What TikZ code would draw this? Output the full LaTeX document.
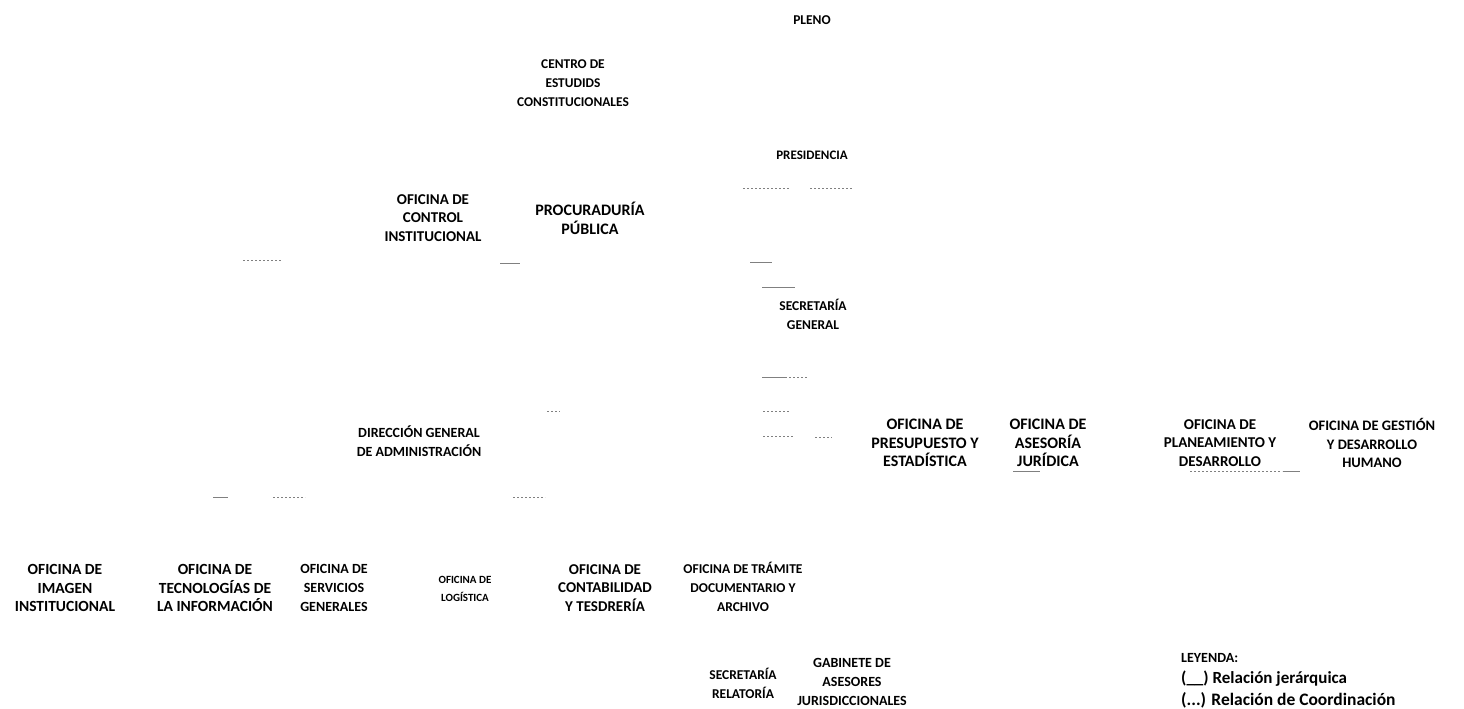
\documentclass[tikz,border=0pt]{standalone}
\usepackage{fontspec}
\setmainfont{Carlito}
\usetikzlibrary{calc}
\tikzset{unit/.style={align=center, inner sep=0pt,
           font=\bfseries\fontsize{#1}{18.8}\selectfont},
     unit/.default=13,
     legend text/.style={anchor=west, inner sep=0pt,
           font=\bfseries\fontsize{#1}{15}\selectfont},
     frag/.style={draw=black!50, line width=0.7pt},
     frag dots/.style={frag, dash pattern=on 2pt off 2pt}
     }
\newcommand\Unit[4][13]{%
 \node[unit=#1] (#2) at (#3) {#4};
}

\begin{document}
\begin{tikzpicture}[x=1pt, y=-1pt]
\useasboundingbox (0,0) rectangle (1464,709);
\Unit[13.5]{Pleno}{812,20}{PLENO}
\Unit[13.4]{Centro}{573,83}{CENTRO DE\\ESTUDIDS\\CONSTITUCIONALES}
\Unit{Presidencia}{812,155}{PRESIDENCIA}
\Unit[15]{Control}{433,218}{OFICINA DE\\CONTROL\\INSTITUCIONAL}
\Unit[16]{Procuraduria}{590,218}{PROCURADURÍA\\PÚBLICA}
\Unit[13.5]{SecGeneral}{813,314}{SECRETARÍA\\GENERAL}
\Unit[14]{DirAdmin}{419,441}{DIRECCIÓN GENERAL\\DE ADMINISTRACIÓN}
\Unit[16]{Presupuesto}{925,443}{OFICINA DE\\PRESUPUESTO Y\\ESTADÍSTICA}
\Unit[16]{Asesoria}{1048,443}{OFICINA DE\\ASESORÍA\\JURÍDICA}
\Unit[15]{Planeamiento}{1220,443}{OFICINA DE\\PLANEAMIENTO Y\\DESARROLLO}
\Unit[14.5]{Gestion}{1372,443}{OFICINA DE GESTIÓN\\Y DESARROLLO\\HUMANO}
\Unit[15.5]{Imagen}{65,588}{OFICINA DE\\IMAGEN\\INSTITUCIONAL}
\Unit[15.5]{Tecnologias}{215,588}{OFICINA DE\\TECNOLOGÍAS DE\\LA INFORMACIÓN}
\Unit[14]{Servicios}{334,588}{OFICINA DE\\SERVICIOS\\GENERALES}
\Unit[11]{Logistica}{465,589}{OFICINA DE\\LOGÍSTICA}
\Unit[15]{Contabilidad}{605,588}{OFICINA DE\\CONTABILIDAD\\Y TESDRERÍA}
\Unit[13.5]{Tramite}{743,587}{OFICINA DE TRÁMITE\\DOCUMENTARIO Y\\ARCHIVO}
\Unit[13.5]{Relatoria}{743,683}{SECRETARÍA\\RELATORÍA}
\Unit[14]{Gabinete}{852,682}{GABINETE DE\\ASESORES\\JURISDICCIONALES}
% leyenda
\node[legend text=14] (Leyenda) at (1181,658) {LEYENDA:};
\node[legend text=17] (Jerarquica) at (1181,679) {(\_\_) Relación jerárquica};
\node[legend text=17.5] (Coordinacion) at (1181,700) {(...) Relación de Coordinación};
% restos de conectores
\draw[frag dots] (743,188) -- (790,188);
\draw[frag dots] (810,188) -- (852,188);
\draw[frag dots] (243,260) -- (282,260);
\draw[frag] (500,263) -- (520,263);
\draw[frag] (750,262) -- (772,262);
\draw[frag] (762,287) -- (795,287);
\draw[frag] (762,377) -- (785,377);
\draw[frag dots] (785,377) -- (808,377);
\draw[frag dots] (547,411) -- (560,411);
\draw[frag dots] (763,411) -- (790,411);
\draw[frag dots] (763,436) -- (793,436);
\draw[frag dots] (815,437) -- (832,437);
\draw[frag] (1013,471) -- (1040,471);
\draw[frag dots] (1190,471) -- (1282,471);
\draw[frag] (1283,471) -- (1300,471);
\draw[frag] (213,497) -- (228,497);
\draw[frag dots] (273,497) -- (305,497);
\draw[frag dots] (513,497) -- (545,497);
\end{tikzpicture}
\end{document}
